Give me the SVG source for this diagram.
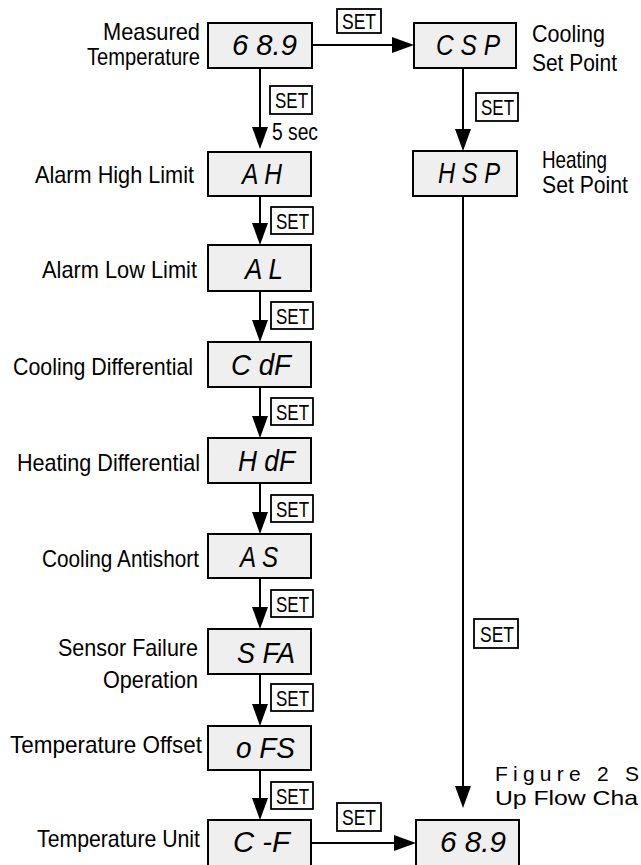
<svg xmlns="http://www.w3.org/2000/svg" width="641" height="865" viewBox="0 0 641 865">
<style>
.bg{fill:#ffffff}
.disp{fill:#efefef;stroke:#000;stroke-width:2}
.dt{font-family:"Liberation Sans",Arial,sans-serif;font-style:italic;font-size:30px;fill:#000}
.lbl{font-family:"Liberation Sans",Arial,sans-serif;font-size:24px;fill:#000}
.cap{font-family:"Liberation Sans",Arial,sans-serif;font-size:21px;fill:#000}
.setb{fill:#fff;stroke:#000;stroke-width:1.8}
.sett{font-family:"Liberation Sans",Arial,sans-serif;font-size:22px;fill:#000}
.con{stroke:#000;stroke-width:2;fill:none}
</style>
<defs>
<marker id="ah" markerUnits="userSpaceOnUse" markerWidth="22" markerHeight="16" viewBox="0 0 22 16" refX="12" refY="8" orient="auto">
<path d="M0,0 L22,8 L0,16 z" fill="#000"/>
</marker>
</defs>
<rect class="bg" x="0" y="0" width="641" height="865"/>

<g id="connectors">
<line class="con" x1="260" y1="68" x2="260" y2="139" marker-end="url(#ah)"/>
<line class="con" x1="260" y1="196" x2="260" y2="235" marker-end="url(#ah)"/>
<line class="con" x1="260" y1="291" x2="260" y2="332" marker-end="url(#ah)"/>
<line class="con" x1="260" y1="387" x2="260" y2="428" marker-end="url(#ah)"/>
<line class="con" x1="260" y1="483" x2="260" y2="524" marker-end="url(#ah)"/>
<line class="con" x1="260" y1="578" x2="260" y2="619" marker-end="url(#ah)"/>
<line class="con" x1="260" y1="674" x2="260" y2="716" marker-end="url(#ah)"/>
<line class="con" x1="260" y1="770" x2="260" y2="810" marker-end="url(#ah)"/>
<line class="con" x1="312" y1="45" x2="404" y2="45" marker-end="url(#ah)"/>
<line class="con" x1="463" y1="68" x2="463" y2="141" marker-end="url(#ah)"/>
<line class="con" x1="463" y1="196" x2="463" y2="798" marker-end="url(#ah)"/>
<line class="con" x1="312" y1="843" x2="406" y2="843" marker-end="url(#ah)"/>
<rect class="setb" x="270" y="86" width="42" height="28"/>
<text class="sett" x="275" y="108" textLength="33" lengthAdjust="spacingAndGlyphs">SET</text>
<text class="lbl" x="272" y="140" textLength="46" lengthAdjust="spacingAndGlyphs">5 sec</text>
<rect class="setb" x="271" y="207" width="42" height="27"/>
<text class="sett" x="276" y="229" textLength="33" lengthAdjust="spacingAndGlyphs">SET</text>
<rect class="setb" x="271" y="302" width="42" height="27"/>
<text class="sett" x="276" y="324" textLength="33" lengthAdjust="spacingAndGlyphs">SET</text>
<rect class="setb" x="271" y="398" width="42" height="27"/>
<text class="sett" x="276" y="420" textLength="33" lengthAdjust="spacingAndGlyphs">SET</text>
<rect class="setb" x="271" y="495" width="42" height="27"/>
<text class="sett" x="276" y="517" textLength="33" lengthAdjust="spacingAndGlyphs">SET</text>
<rect class="setb" x="271" y="590" width="42" height="27"/>
<text class="sett" x="276" y="612" textLength="33" lengthAdjust="spacingAndGlyphs">SET</text>
<rect class="setb" x="271" y="684" width="42" height="27"/>
<text class="sett" x="276" y="706" textLength="33" lengthAdjust="spacingAndGlyphs">SET</text>
<rect class="setb" x="271" y="782" width="42" height="27"/>
<text class="sett" x="276" y="804" textLength="33" lengthAdjust="spacingAndGlyphs">SET</text>
<rect class="setb" x="337" y="9" width="44" height="24"/>
<text class="sett" x="342" y="29" textLength="34" lengthAdjust="spacingAndGlyphs">SET</text>
<rect class="setb" x="476" y="93" width="42" height="28"/>
<text class="sett" x="481" y="115" textLength="33" lengthAdjust="spacingAndGlyphs">SET</text>
<rect class="setb" x="474" y="619" width="44" height="29"/>
<text class="sett" x="480" y="642" textLength="34" lengthAdjust="spacingAndGlyphs">SET</text>
<rect class="setb" x="337" y="803" width="44" height="28"/>
<text class="sett" x="342" y="825" textLength="34" lengthAdjust="spacingAndGlyphs">SET</text>
</g>

<g id="measured">
<rect class="disp" x="208" y="23" width="104" height="45"/>
<text class="dt" x="232" y="55" textLength="65" lengthAdjust="spacingAndGlyphs">6 8.9</text>
<text class="lbl" x="103" y="40" textLength="97" lengthAdjust="spacingAndGlyphs">Measured</text>
<text class="lbl" x="87" y="65" textLength="113" lengthAdjust="spacingAndGlyphs">Temperature</text>
</g>
<g id="csp">
<rect class="disp" x="414" y="23" width="102" height="45"/>
<text class="dt" x="436" y="55" textLength="64" lengthAdjust="spacingAndGlyphs">C S P</text>
<text class="lbl" x="532" y="42" textLength="73" lengthAdjust="spacingAndGlyphs">Cooling</text>
<text class="lbl" x="532" y="71" textLength="85" lengthAdjust="spacingAndGlyphs">Set Point</text>
</g>
<g id="hsp">
<rect class="disp" x="413" y="151" width="104" height="45"/>
<text class="dt" x="438" y="183" textLength="62" lengthAdjust="spacingAndGlyphs">H S P</text>
<text class="lbl" x="542" y="168" textLength="65" lengthAdjust="spacingAndGlyphs">Heating</text>
<text class="lbl" x="542" y="193" textLength="86" lengthAdjust="spacingAndGlyphs">Set Point</text>
</g>
<g id="ah-node">
<rect class="disp" x="208" y="152" width="103" height="44"/>
<text class="dt" x="242" y="184" textLength="40" lengthAdjust="spacingAndGlyphs">A H</text>
<text class="lbl" x="35" y="183" textLength="159" lengthAdjust="spacingAndGlyphs">Alarm High Limit</text>
</g>
<g id="al">
<rect class="disp" x="208" y="245" width="103" height="46"/>
<text class="dt" x="245" y="279" textLength="38" lengthAdjust="spacingAndGlyphs">A L</text>
<text class="lbl" x="42" y="278" textLength="155" lengthAdjust="spacingAndGlyphs">Alarm Low Limit</text>
</g>
<g id="cdf">
<rect class="disp" x="208" y="342" width="103" height="45"/>
<text class="dt" x="231" y="375" textLength="60" lengthAdjust="spacingAndGlyphs">C dF</text>
<text class="lbl" x="13" y="375" textLength="180" lengthAdjust="spacingAndGlyphs">Cooling Differential</text>
</g>
<g id="hdf">
<rect class="disp" x="208" y="438" width="103" height="45"/>
<text class="dt" x="238" y="471" textLength="57" lengthAdjust="spacingAndGlyphs">H dF</text>
<text class="lbl" x="17" y="471" textLength="183" lengthAdjust="spacingAndGlyphs">Heating Differential</text>
</g>
<g id="as">
<rect class="disp" x="208" y="534" width="103" height="44"/>
<text class="dt" x="240" y="567" textLength="38" lengthAdjust="spacingAndGlyphs">A S</text>
<text class="lbl" x="42" y="567" textLength="157" lengthAdjust="spacingAndGlyphs">Cooling Antishort</text>
</g>
<g id="sfa">
<rect class="disp" x="208" y="629" width="103" height="45"/>
<text class="dt" x="237" y="663" textLength="58" lengthAdjust="spacingAndGlyphs">S FA</text>
<text class="lbl" x="58" y="656" textLength="140" lengthAdjust="spacingAndGlyphs">Sensor Failure</text>
<text class="lbl" x="103" y="688" textLength="95" lengthAdjust="spacingAndGlyphs">Operation</text>
</g>
<g id="ofs">
<rect class="disp" x="208" y="726" width="103" height="44"/>
<text class="dt" x="236" y="758" textLength="59" lengthAdjust="spacingAndGlyphs">o FS</text>
<text class="lbl" x="10" y="753" textLength="192" lengthAdjust="spacingAndGlyphs">Temperature Offset</text>
</g>
<g id="cf">
<rect class="disp" x="208" y="820" width="103" height="55"/>
<text class="dt" x="233" y="852" textLength="57" lengthAdjust="spacingAndGlyphs">C -F</text>
<text class="lbl" x="37" y="847" textLength="163" lengthAdjust="spacingAndGlyphs">Temperature Unit</text>
</g>
<g id="final">
<rect class="disp" x="416" y="820" width="103" height="55"/>
<text class="dt" x="440" y="852" textLength="66" lengthAdjust="spacingAndGlyphs">6 8.9</text>
</g>
<g id="caption">
<text class="cap" x="495" y="781" textLength="144" lengthAdjust="spacing">Figure 2  S</text>
<text class="cap" x="495" y="805" textLength="143" lengthAdjust="spacingAndGlyphs">Up Flow Cha</text>
</g>
</svg>
